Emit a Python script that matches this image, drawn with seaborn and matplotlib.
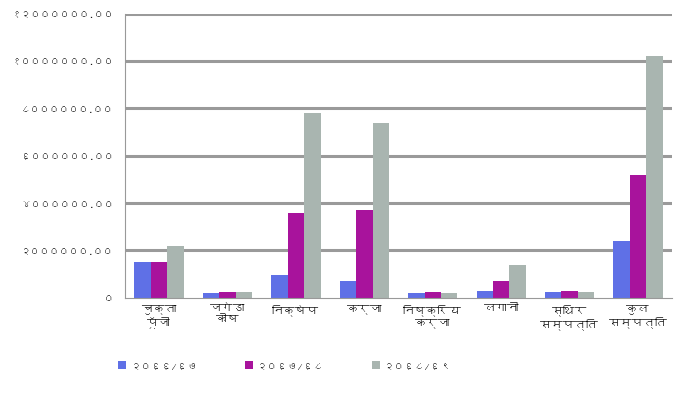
import numpy as np
import pandas as pd
import matplotlib
matplotlib.use('Agg')
import matplotlib.pyplot as plt
import seaborn as sns
from matplotlib import font_manager
from matplotlib.ft2font import FT2Font

# 数据
categories = ['चुक्ता\nपूँजी', 'जगेडा\nकोष', 'निक्षेप', 'कर्जा',
              'निष्क्रिय\nकर्जा', 'लगानी', 'स्थिर\nसम्पत्ति', 'कुल\nसम्पत्ति']
years = ['२०६६/६७', '२०६७/६८', '२०६८/६९']
fy_6667 = [1500000, 200000, 950000, 700000, 200000, 300000, 250000, 2400000]
fy_6768 = [1500000, 250000, 3600000, 3700000, 250000, 700000, 300000, 5200000]
fy_6869 = [2200000, 250000, 7800000, 7400000, 200000, 1400000, 250000, 10200000]
y_ticks = [0, 2000000, 4000000, 6000000, 8000000, 10000000, 12000000]
y_tick_labels = ['०', '२००००००.००', '४००००००.००', '६००००००.००',
                 '८००००००.००', '१०००००००.००', '१२००००००.००']
colors = ['#5f70e6', '#a8139c', '#a9b5b0']

# 找一个带天城文字形的字体
deva_family = None
for f in font_manager.fontManager.ttflist:
    try:
        if 0x0928 in FT2Font(f.fname).get_charmap():
            deva_family = f.name
            break
    except Exception:
        pass
families = [deva_family, 'DejaVu Sans'] if deva_family else ['DejaVu Sans']

sns.set_style('white')
plt.rcParams['font.family'] = families

df = pd.DataFrame({
    'category': categories * 3,
    'year': [years[0]] * 8 + [years[1]] * 8 + [years[2]] * 8,
    'value': fy_6667 + fy_6768 + fy_6869,
})

fig = plt.figure(figsize=(6.86, 4.06), dpi=100)
ax = fig.add_axes([0.182, 0.264, 0.798, 0.70])

sns.barplot(data=df, x='category', y='value', hue='year', order=categories,
            hue_order=years, palette=colors, width=0.72, saturation=1,
            edgecolor='none', ax=ax)

ax.set_ylim(0, 12000000)
ax.set_yticks(y_ticks)
ax.set_yticklabels(y_tick_labels, fontsize=7, color='#1a1a1a')
ax.tick_params(axis='y', length=4, color='#888888', pad=4)
ax.tick_params(axis='x', length=0, labelsize=8.5, pad=4, labelcolor='#111111')
ax.set_xlabel('')
ax.set_ylabel('')
ax.set_xlim(-0.5, len(categories) - 0.5)

# 横向网格线
for yv in y_ticks[1:]:
    ax.axhline(yv, color='#9a9a9a', linewidth=2.2, zorder=0)
ax.set_axisbelow(True)

for side in ['top', 'right']:
    ax.spines[side].set_visible(False)
ax.spines['left'].set_color('#999999')
ax.spines['bottom'].set_color('#999999')

# 类别分隔小刻度
ax.set_xticks(np.arange(len(categories)), minor=False)
ax.set_xticks(np.arange(len(categories) + 1) - 0.5, minor=True)
ax.tick_params(axis='x', which='minor', length=4, color='#999999')

ax.legend(loc='upper left', bbox_to_anchor=(-0.03, -0.19), ncol=3, frameon=False,
          fontsize=7.5, handlelength=0.8, handleheight=0.8, columnspacing=4.5,
          handletextpad=0.4)

plt.savefig('out.png', dpi=100)
plt.close()
